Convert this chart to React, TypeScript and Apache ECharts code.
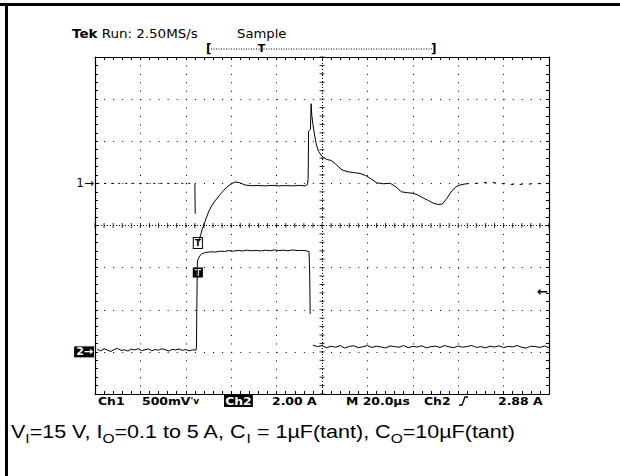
import React, { useEffect, useRef } from "react";
import * as echarts from "echarts";

// ---- scope settings (from the on-screen readout) ----
const TIME_PER_DIV_US = 20;
const DIVS_X = 10;
const DIVS_Y = 8;
const CH1_MV_PER_DIV = 500;
const CH1_GROUND_DIV = 1;
const CH2_A_PER_DIV = 2;
const CH2_GROUND_DIV = -3;
const TRIGGER_LEVEL_A = 2.88;
const TRIGGER_TIME_US = 45.3;

// ---- Ch1: output voltage deviation, [time µs, mV] ----
const ch1Before = [[1, 0], [43.5, 0]];
const ch1Drop = [[44.0, -5], [44.15, -360]];
const ch1Recovery = [
  [45.8, -690], [46.5, -620], [47.2, -545], [48.7, -435], [50, -340], [51.1, -280],
  [52.8, -210], [54.6, -150], [56.3, -95], [58.1, -45], [60, -5], [61.7, 16],
  [63.5, 10], [66.1, -20], [69, -28], [72, -25], [75, -30], [78, -24], [81, -30],
  [84, -26], [87, -30], [90, -24], [92.5, -30], [93.6, -15], [93.9, 60],
  [94.1, 620], [94.9, 640], [95.2, 946], [95.5, 810], [96, 700], [96.8, 560],
  [97.6, 450], [98.5, 380], [100, 318], [102, 285], [104, 272], [106, 230], [108.8, 160],
  [111, 140], [114, 128], [116.7, 118], [119, 95], [121, 64], [124, 8], [127, -5],
  [130, 2], [132.5, -40], [135, -100], [137.5, -110], [140, -118], [142, -135],
  [144.5, -172], [147, -205], [149, -235], [151, -250], [153, -246], [155, -178],
  [157.3, -85], [159, -42], [160.8, -20], [163.4, -5],
];
const ch1Tail = [[163.4, -5], [170.5, 4], [173.1, 16], [184.6, -15], [198.5, 0]];

// ---- Ch2: load current, [time µs, A] ----
const ch2Before = [
  [1, 0.12], [2.5, 0.05], [4, 0.15], [5.5, 0.08], [7, 0.02], [8.5, 0.12], [10, 0.16],
  [11.5, 0.07], [13, 0.1], [14.5, 0.04], [16, 0.13], [17.5, 0.09], [19, 0.15],
  [20.5, 0.06], [22, 0.1], [23.5, 0.14], [25, 0.05], [26.5, 0.11], [28, 0.08],
  [29.5, 0.15], [31, 0.1], [32.5, 0.04], [34, 0.12], [35.5, 0.09], [37, 0.14],
  [38.5, 0.07], [40, 0.11], [41.5, 0.05], [43, 0.1], [44.5, 0.08],
];
const ch2Pulse = [
  [44.7, 0.2], [44.9, 2.6], [45.1, 4.3], [45.6, 4.45], [46.3, 4.58], [47.2, 4.66],
  [48.7, 4.72], [51, 4.75], [53, 4.74], [55, 4.78], [57, 4.77], [59, 4.81], [61, 4.78],
  [63, 4.82], [65, 4.79], [67, 4.83], [69, 4.8], [71, 4.82], [73, 4.79], [75, 4.83],
  [77, 4.8], [79, 4.84], [81, 4.81], [83, 4.83], [85, 4.8], [87, 4.84], [89, 4.81],
  [91, 4.82], [93, 4.8], [94.3, 4.76], [94.6, 3.6], [94.8, 1.8],
];
const ch2After = [
  [96, 0.32], [98, 0.25], [100, 0.3], [102, 0.2], [104, 0.27], [106, 0.22], [108, 0.3],
  [110, 0.18], [112, 0.26], [114, 0.29], [116, 0.2], [118, 0.24], [120, 0.3], [122, 0.21],
  [124, 0.27], [126, 0.23], [128, 0.19], [130, 0.28], [132, 0.25], [134, 0.22], [136, 0.3],
  [138, 0.2], [140, 0.26], [142, 0.23], [144, 0.29], [146, 0.19], [148, 0.25], [150, 0.27],
  [152, 0.21], [154, 0.3], [156, 0.24], [158, 0.2], [160, 0.28], [162, 0.22], [164, 0.26],
  [166, 0.3], [168, 0.21], [170, 0.25], [172, 0.19], [174, 0.27], [176, 0.23], [178, 0.29],
  [180, 0.2], [182, 0.26], [184, 0.24], [186, 0.3], [188, 0.22], [190, 0.18], [192, 0.27],
  [194, 0.25], [196, 0.21], [198, 0.28], [200, 0.2],
];

// trigger marker heights (divisions)
const triggerMarkerDivs = [-0.415, -1.116];

const ch1ToDiv = (d: number[][]) => d.map(([t, mv]) => [t, mv / CH1_MV_PER_DIV + CH1_GROUND_DIV]);
const ch2ToDiv = (d: number[][]) => d.map(([t, a]) => [t, a / CH2_A_PER_DIV + CH2_GROUND_DIV]);

const TEK_FONT = "DejaVu Sans";
const CAP_FONT = "Liberation Sans";

export default function App() {
  const ref = useRef<HTMLDivElement>(null);

  useEffect(() => {
    if (!ref.current) return;
    const chart = echarts.init(ref.current, undefined, { renderer: "svg" });
    const xMax = DIVS_X * TIME_PER_DIV_US;
    const yHalf = DIVS_Y / 2;

    const centerTicksH: number[][] = [];
    for (let i = 0; i <= DIVS_X * 5; i++) centerTicksH.push([(i * TIME_PER_DIV_US) / 5, 0]);
    const centerTicksV: number[][] = [];
    for (let j = 0; j <= DIVS_Y * 5; j++) centerTicksV.push([xMax / 2, -yHalf + j / 5]);

    const frameAxis = {
      axisLine: { show: true, onZero: false, lineStyle: { color: "#000", width: 1.2 } },
      axisTick: { show: true, inside: true, length: 3, lineStyle: { color: "#000", width: 1 } },
      minorTick: { show: true, splitNumber: 5, length: 3, lineStyle: { color: "#000", width: 1 } },
      axisLabel: { show: false },
    };

    const traceLine = (data: any[], dash?: any) => ({
      type: "line",
      data,
      showSymbol: false,
      symbol: "none",
      silent: true,
      z: 5,
      lineStyle: { color: "#000", width: 1, type: dash || "solid" },
    });

    const markLabel = (extra: any) => ({
      show: true,
      fontFamily: TEK_FONT,
      color: "#000",
      ...extra,
    });

    const option: any = {
      animation: false,
      backgroundColor: "#fff",
      grid: { left: 95, top: 57, width: 454, height: 337, show: false },
      xAxis: [
        {
          type: "value", min: 0, max: xMax, interval: TIME_PER_DIV_US, position: "bottom",
          ...frameAxis,
          splitLine: { show: true, lineStyle: { color: "#000", width: 1, type: [1, 7.425] } },
        },
        {
          type: "value", min: 0, max: xMax, interval: TIME_PER_DIV_US, position: "top",
          ...frameAxis, splitLine: { show: false },
        },
      ],
      yAxis: [
        {
          type: "value", min: -yHalf, max: yHalf, interval: 1, position: "left",
          ...frameAxis,
          splitLine: { show: true, lineStyle: { color: "#000", width: 1, type: [1, 8.08] } },
        },
        {
          type: "value", min: -yHalf, max: yHalf, interval: 1, position: "right",
          ...frameAxis, splitLine: { show: false },
        },
      ],
      series: [
        {
          type: "scatter",
          data: centerTicksH,
          symbol: "rect",
          symbolSize: [1, 5],
          itemStyle: { color: "#000" },
          silent: true,
          z: 2,
          markLine: {
            silent: true,
            symbol: ["none", "none"],
            label: { show: false },
            lineStyle: { color: "#000", width: 1, type: [1, 2] },
            data: [{ xAxis: xMax / 2 }, { yAxis: 0 }],
          },
          markPoint: {
            silent: true,
            symbol: "rect",
            symbolSize: 0,
            data: [
              {
                coord: [0, CH1_GROUND_DIV],
                label: markLabel({ formatter: "1→", position: "left", distance: 1, fontSize: 12 }),
              },
              {
                coord: [0, CH2_GROUND_DIV],
                label: markLabel({
                  formatter: "2→", position: "left", distance: 1, fontSize: 11, fontWeight: "bold",
                  color: "#fff", backgroundColor: "#000", padding: [0, 1, 0, 2], lineHeight: 11,
                }),
              },
              {
                coord: [xMax, TRIGGER_LEVEL_A / CH2_A_PER_DIV + CH2_GROUND_DIV],
                label: markLabel({ formatter: "←", position: "left", distance: 1, fontSize: 13, fontWeight: "bold" }),
              },
              {
                coord: [TRIGGER_TIME_US, triggerMarkerDivs[0]],
                label: markLabel({
                  formatter: "T", position: "inside", fontSize: 9, fontWeight: "bold",
                  backgroundColor: "#fff", borderColor: "#000", borderWidth: 1, padding: [1, 1, 0, 1],
                }),
              },
              {
                coord: [TRIGGER_TIME_US, triggerMarkerDivs[1]],
                label: markLabel({
                  formatter: "T", position: "inside", fontSize: 9, fontWeight: "bold",
                  color: "#fff", backgroundColor: "#000", padding: [1, 2, 0, 2],
                }),
              },
            ],
          },
        },
        {
          type: "scatter",
          data: centerTicksV,
          symbol: "rect",
          symbolSize: [5, 1],
          itemStyle: { color: "#000" },
          silent: true,
          z: 2,
        },
        traceLine(ch1ToDiv(ch1Before), [2, 5]),
        traceLine(ch1ToDiv(ch1Drop)),
        traceLine(ch1ToDiv(ch1Recovery)),
        traceLine(ch1ToDiv(ch1Tail), [3, 6]),
        traceLine(ch2ToDiv(ch2Before.concat(ch2Pulse))),
        traceLine(ch2ToDiv(ch2After)),
      ],
      graphic: [
        { type: "rect", shape: { x: 0, y: 3, width: 620, height: 3 }, style: { fill: "#000" } },
        { type: "rect", shape: { x: 5, y: 3, width: 3, height: 473 }, style: { fill: "#000" } },
        {
          type: "text", x: 72, y: 34, scaleX: 1.12,
          style: {
            text: "{b|Tek} Run: 2.50MS/s", font: `12px "${TEK_FONT}"`, fill: "#000",
            align: "left", verticalAlign: "middle", textAlign: "left", textVerticalAlign: "middle",
            rich: { b: { fontWeight: "bold", fontSize: 12, fontFamily: TEK_FONT } },
          },
        },
        {
          type: "text", x: 237, y: 34, scaleX: 1.1,
          style: {
            text: "Sample", font: `12px "${TEK_FONT}"`, fill: "#000",
            align: "left", verticalAlign: "middle", textAlign: "left", textVerticalAlign: "middle",
          },
        },
        {
          type: "text", x: 206, y: 49,
          style: { text: "[", font: `bold 12px "${TEK_FONT}"`, fill: "#000", align: "left", verticalAlign: "middle", textAlign: "left", textVerticalAlign: "middle" },
        },
        {
          type: "text", x: 431, y: 49,
          style: { text: "]", font: `bold 12px "${TEK_FONT}"`, fill: "#000", align: "left", verticalAlign: "middle", textAlign: "left", textVerticalAlign: "middle" },
        },
        {
          type: "line", shape: { x1: 211, y1: 49, x2: 432, y2: 49 },
          style: { stroke: "#000", lineWidth: 1, lineDash: [1, 1.5] },
        },
        {
          type: "text", x: 261.5, y: 48,
          style: { text: "T", font: `bold 11px "${TEK_FONT}"`, fill: "#000", align: "center", verticalAlign: "middle", textAlign: "center", textVerticalAlign: "middle" },
        },
        // readout line under the graticule
        ...[
          { t: "Ch1", x: 98 },
          { t: "2.00 A", x: 272 },
          { t: "M 20.0µs", x: 346 },
          { t: "Ch2", x: 424 },
          { t: "2.88 A", x: 498 },
        ].map((o) => ({
          type: "text", x: o.x, y: 401, scaleX: 1.13,
          style: {
            text: o.t, font: `bold 11px "${TEK_FONT}"`, fill: "#000",
            align: "left", verticalAlign: "middle", textAlign: "left", textVerticalAlign: "middle",
          },
        })),
        {
          type: "text", x: 142, y: 401, scaleX: 1.13,
          style: {
            text: "500mV{s|'v}", font: `bold 11px "${TEK_FONT}"`, fill: "#000",
            align: "left", verticalAlign: "middle", textAlign: "left", textVerticalAlign: "middle",
            rich: { s: { fontSize: 8, fontWeight: "bold", fontFamily: TEK_FONT } },
          },
        },
        {
          type: "text", x: 224, y: 401, scaleX: 1.13,
          style: {
            text: "Ch2", font: `bold 11px "${TEK_FONT}"`, fill: "#fff", backgroundColor: "#000",
            padding: [1, 1, 0, 1],
            align: "left", verticalAlign: "middle", textAlign: "left", textVerticalAlign: "middle",
          },
        },
        {
          type: "polyline",
          shape: { points: [[459, 405], [462, 405], [465, 397], [468, 397]] },
          style: { stroke: "#000", lineWidth: 1.3, fill: "none" },
        },
        // caption
        {
          type: "text", x: 11, y: 432, scaleX: 1.195,
          style: {
            text: "{m|V}{s|I}{m|=15 V, I}{s|O}{m|=0.1 to 5 A, C}{s|I}{m| = 1µF(tant), C}{s|O}{m|=10µF(tant)}",
            fill: "#000",
            align: "left", verticalAlign: "middle", textAlign: "left", textVerticalAlign: "middle",
            rich: {
              m: { fontSize: 18, fontFamily: CAP_FONT, lineHeight: 26, verticalAlign: "middle" },
              s: { fontSize: 13, fontFamily: CAP_FONT, verticalAlign: "bottom" },
            },
          },
        },
      ],
    };

    chart.setOption(option);
    return () => chart.dispose();
  }, []);

  return (
    <div
      ref={ref}
      style={{ position: "absolute", left: 0, top: 0, width: 620, height: 476, background: "#fff" }}
    />
  );
}
